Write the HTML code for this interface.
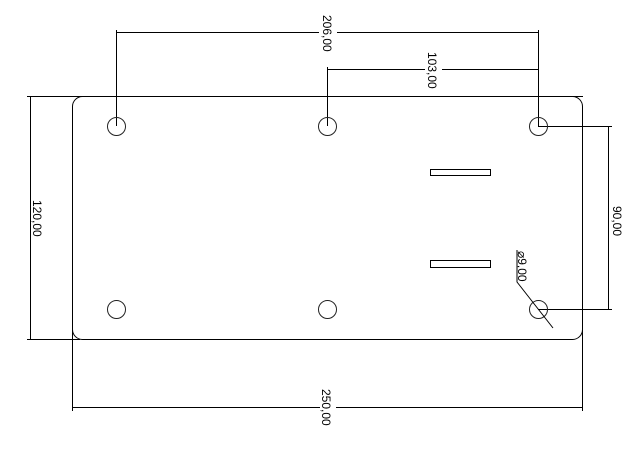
<!DOCTYPE html>
<html><head><meta charset="utf-8"><style>html,body{margin:0;padding:0;background:#fff}svg{display:block}</style></head>
<body>
<svg width="634" height="455" viewBox="0 0 634 455" xmlns="http://www.w3.org/2000/svg" font-family="Liberation Sans, DejaVu Sans, sans-serif" font-size="12">
<g fill="none" stroke="#000" stroke-width="1">
<rect x="72.5" y="96.5" width="510" height="243" rx="10"/>
<line x1="27" y1="96.5" x2="583" y2="96.5"/>
<line x1="27" y1="339.5" x2="80" y2="339.5"/>
<line x1="72.5" y1="330" x2="72.5" y2="411"/>
<line x1="582.5" y1="330" x2="582.5" y2="411"/>
<line x1="30.5" y1="96" x2="30.5" y2="340"/>
<line x1="72" y1="407.5" x2="320" y2="407.5"/>
<line x1="336" y1="407.5" x2="583" y2="407.5"/>
<line x1="116.5" y1="30" x2="116.5" y2="126"/>
<line x1="538.5" y1="30" x2="538.5" y2="126"/>
<line x1="116" y1="32.5" x2="319" y2="32.5"/>
<line x1="337" y1="32.5" x2="538" y2="32.5"/>
<line x1="327.5" y1="67" x2="327.5" y2="126"/>
<line x1="327" y1="69.5" x2="425" y2="69.5"/>
<line x1="442" y1="69.5" x2="538" y2="69.5"/>
<line x1="538" y1="126.5" x2="612" y2="126.5"/>
<line x1="538" y1="309.5" x2="612" y2="309.5"/>
<line x1="608.5" y1="126" x2="608.5" y2="309"/>
<g stroke="#222">
<circle cx="116.5" cy="126.5" r="9"/><circle cx="327.5" cy="126.5" r="9"/><circle cx="538.5" cy="126.5" r="9"/>
<circle cx="116.5" cy="309.5" r="9"/><circle cx="327.5" cy="309.5" r="9"/><circle cx="538.5" cy="309.5" r="9"/>
</g>
<rect x="430.5" y="169.5" width="60" height="6"/>
<rect x="430.5" y="260.5" width="60" height="7"/>
<polyline points="517,250 517,282 553,328"/>
</g>
<g fill="#000">
<text transform="translate(323,15) rotate(90)">206,00</text>
<text transform="translate(428,52) rotate(90)">103,00</text>
<text transform="translate(33,200) rotate(90)">120,00</text>
<text transform="translate(613,206) rotate(90)">90,00</text>
<text transform="translate(322,389) rotate(90)">250,00</text>
<text transform="translate(518,251) rotate(90)">⌀9,00</text>
</g>
</svg>
</body></html>
